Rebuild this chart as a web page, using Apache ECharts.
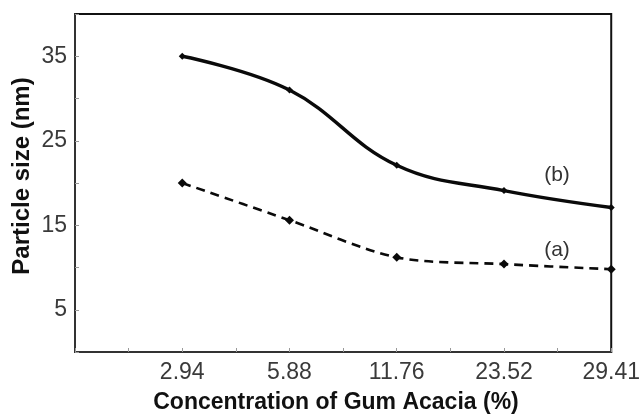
<!DOCTYPE html>
<html>
<head>
<meta charset="utf-8">
<script src="https://cdn.jsdelivr.net/npm/echarts@6/dist/echarts.min.js"></script>
<style>
  html, body { margin: 0; padding: 0; background: #fff; }
  #chart { width: 643px; height: 416px; }
</style>
</head>
<body>
<div id="chart"></div>
<script>
// Gum Acacia concentrations (%) shown as ordinal positions 1..5 on the x axis
const concentrations = ['2.94', '5.88', '11.76', '23.52', '29.41'];
// Particle size (nm) for the two curves
const sizeB = [35, 31, 22.1, 19.1, 17.1];
const sizeA = [20, 15.6, 11.2, 10.4, 9.8];
// Y tick values that carry a label
const yLabelTicks = [5, 15, 25, 35];

const toPoints = vals => vals.map((v, i) => [i + 1, v]);

const font = 'Liberation Sans, Arial, sans-serif';
const chart = echarts.init(document.getElementById('chart'), null, { renderer: 'canvas' });

chart.setOption({
  animation: false,
  backgroundColor: '#ffffff',
  grid: { left: 75, right: 30, top: 14, bottom: 64, show: true, borderColor: '#111', borderWidth: 2 },
  xAxis: {
    type: 'value', min: 0, max: 5, interval: 0.5,
    splitLine: { show: false },
    axisLine: { lineStyle: { color: '#333', width: 2 } },
    axisTick: { inside: true, length: 4, lineStyle: { color: '#999', width: 1 } },
    axisLabel: {
      margin: 9, fontFamily: font, fontSize: 23, color: '#3a3a3a',
      formatter: v => (Number.isInteger(v) && v >= 1) ? concentrations[v - 1] : ''
    }
  },
  yAxis: {
    type: 'value', min: 0, max: 40, interval: 5,
    splitLine: { show: false },
    axisLine: { lineStyle: { color: '#333', width: 2 } },
    axisTick: { inside: true, length: 4, lineStyle: { color: '#999', width: 1 } },
    axisLabel: {
      margin: 8, fontFamily: font, fontSize: 23, color: '#3a3a3a',
      formatter: v => yLabelTicks.includes(v) ? String(v) : ''
    }
  },
  series: [
    {
      name: '(b)', type: 'line', data: toPoints(sizeB), smooth: 0.4, clip: false,
      symbol: 'diamond', symbolSize: 7,
      lineStyle: { color: '#0a0a0a', width: 3.4 },
      itemStyle: { color: '#0a0a0a' }
    },
    {
      name: '(a)', type: 'line', data: toPoints(sizeA), smooth: 0.3, clip: false,
      symbol: 'diamond', symbolSize: 9,
      lineStyle: { color: '#0a0a0a', width: 2.6, type: [9, 6] },
      itemStyle: { color: '#0a0a0a' }
    }
  ],
  graphic: [
    { type: 'text', x: 336, y: 403,
      style: { text: 'Concentration of Gum Acacia (%)', font: 'bold 23px ' + font, fill: '#111', align: 'center', verticalAlign: 'middle' } },
    { type: 'text', x: 22, y: 176, rotation: Math.PI / 2,
      style: { text: 'Particle size (nm)', font: 'bold 24px ' + font, fill: '#111', align: 'center', verticalAlign: 'middle' } },
    { type: 'text', x: 557, y: 175,
      style: { text: '(b)', font: '21px ' + font, fill: '#333', align: 'center', verticalAlign: 'middle' } },
    { type: 'text', x: 557, y: 250,
      style: { text: '(a)', font: '21px ' + font, fill: '#333', align: 'center', verticalAlign: 'middle' } }
  ]
});
</script>
</body>
</html>
